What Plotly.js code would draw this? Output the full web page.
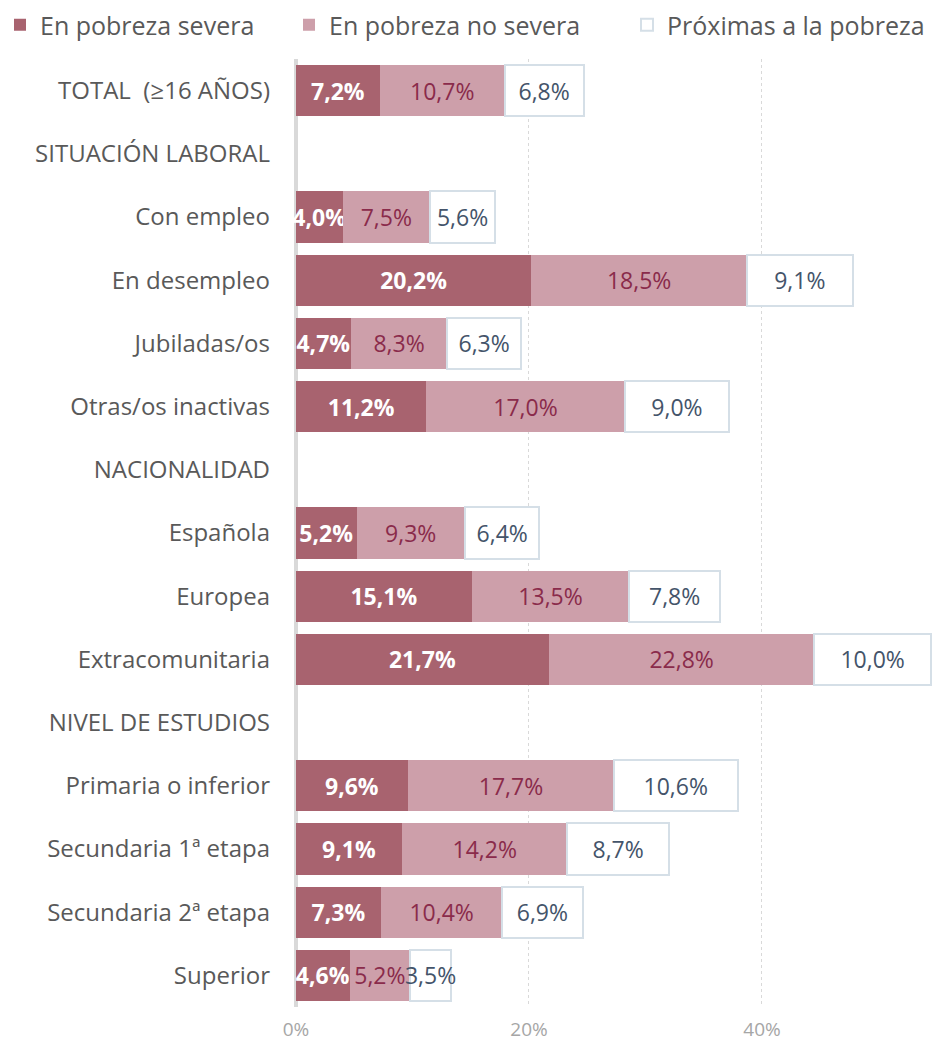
<!DOCTYPE html>
<html>
<head>
<meta charset="utf-8">
<script src="https://cdn.plot.ly/plotly-3.0.1.min.js"></script>
<style>html,body{margin:0;padding:0;background:#fff;}#chart{width:933px;height:1046px;}</style>
</head>
<body>
<div id="chart"></div>
<script>
const categories = [
  "TOTAL\u00a0 (≥16 AÑOS)",
  "SITUACIÓN LABORAL",
  "Con empleo",
  "En desempleo",
  "Jubiladas/os",
  "Otras/os inactivas",
  "NACIONALIDAD",
  "Española",
  "Europea",
  "Extracomunitaria",
  "NIVEL DE ESTUDIOS",
  "Primaria o inferior",
  "Secundaria 1ª etapa",
  "Secundaria 2ª etapa",
  "Superior"
];
const severa =   [7.2, null, 4.0, 20.2, 4.7, 11.2, null, 5.2, 15.1, 21.7, null, 9.6, 9.1, 7.3, 4.6];
const noSevera = [10.7, null, 7.5, 18.5, 8.3, 17.0, null, 9.3, 13.5, 22.8, null, 17.7, 14.2, 10.4, 5.2];
const proximas = [6.8, null, 5.6, 9.1, 6.3, 9.0, null, 6.4, 7.8, 10.0, null, 10.6, 8.7, 6.9, 3.5];
const seriesNames = ["En pobreza severa", "En pobreza no severa", "Próximas a la pobreza"];
const xTickVals = [0, 20, 40];
const xTickText = ["0%", "20%", "40%"];

const FONT = "'Open Sans', 'Noto Sans', sans-serif";
function mk(name, vals, fill, line, txtColor, bold, legendId) {
  return {
    type: 'bar', orientation: 'h', name: name, legend: legendId,
    y: categories, x: vals,
    marker: {color: fill, line: {color: line, width: line === fill ? 0 : 2}},
    texttemplate: bold ? '<b>%{x:.1f}%</b>' : '%{x:.1f}%',
    textposition: 'inside', insidetextanchor: 'middle', constraintext: 'none', textangle: 0,
    textfont: {family: FONT, size: 23, color: txtColor},
    hoverinfo: 'skip', cliponaxis: false
  };
}
const data = [
  mk(seriesNames[0], severa, '#A8636F', '#A8636F', '#FFFFFF', true, 'legend'),
  mk(seriesNames[1], noSevera, '#CD9FAA', '#CD9FAA', '#8A2B4B', false, 'legend2'),
  mk(seriesNames[2], proximas, '#FFFFFF', '#D5DFE7', '#44546A', false, 'legend3')
];
function leg(xpx) {
  return {orientation: 'h', x: xpx / 933, xref: 'container', y: 1 - 25 / 1046, yref: 'container',
    yanchor: 'middle', xanchor: 'left', itemwidth: 30, bgcolor: 'rgba(0,0,0,0)',
    font: {size: 25, color: '#595959', family: FONT}};
}
const layout = {
  width: 933, height: 1046,
  margin: {l: 296, r: 0, t: 59, b: 39, autoexpand: false},
  barmode: 'stack', bargap: 0.19,
  separators: ',.',
  paper_bgcolor: '#fff', plot_bgcolor: '#fff',
  font: {family: FONT, color: '#595959'},
  showlegend: true,
  legend: leg(-12), legend2: leg(289), legend3: leg(627),
  xaxis: {range: [0, 54.68], tickvals: xTickVals, ticktext: xTickText,
    showgrid: true, gridcolor: '#D9D9D9', griddash: 'dot', gridwidth: 1,
    zeroline: true, zerolinecolor: '#D9D9D9', zerolinewidth: 4,
    showline: false, ticks: '', tickfont: {size: 19, color: '#A6A6A6', family: FONT},
    ticklabelstandoff: 9, fixedrange: true},
  yaxis: {autorange: 'reversed', type: 'category', ticks: '', showgrid: false, zeroline: false, showline: false,
    tickfont: {size: 24, color: '#595959', family: FONT}, ticklabelstandoff: 25, fixedrange: true}
};
Plotly.newPlot('chart', data, layout, {displayModeBar: false, staticPlot: true});
</script>
</body>
</html>
